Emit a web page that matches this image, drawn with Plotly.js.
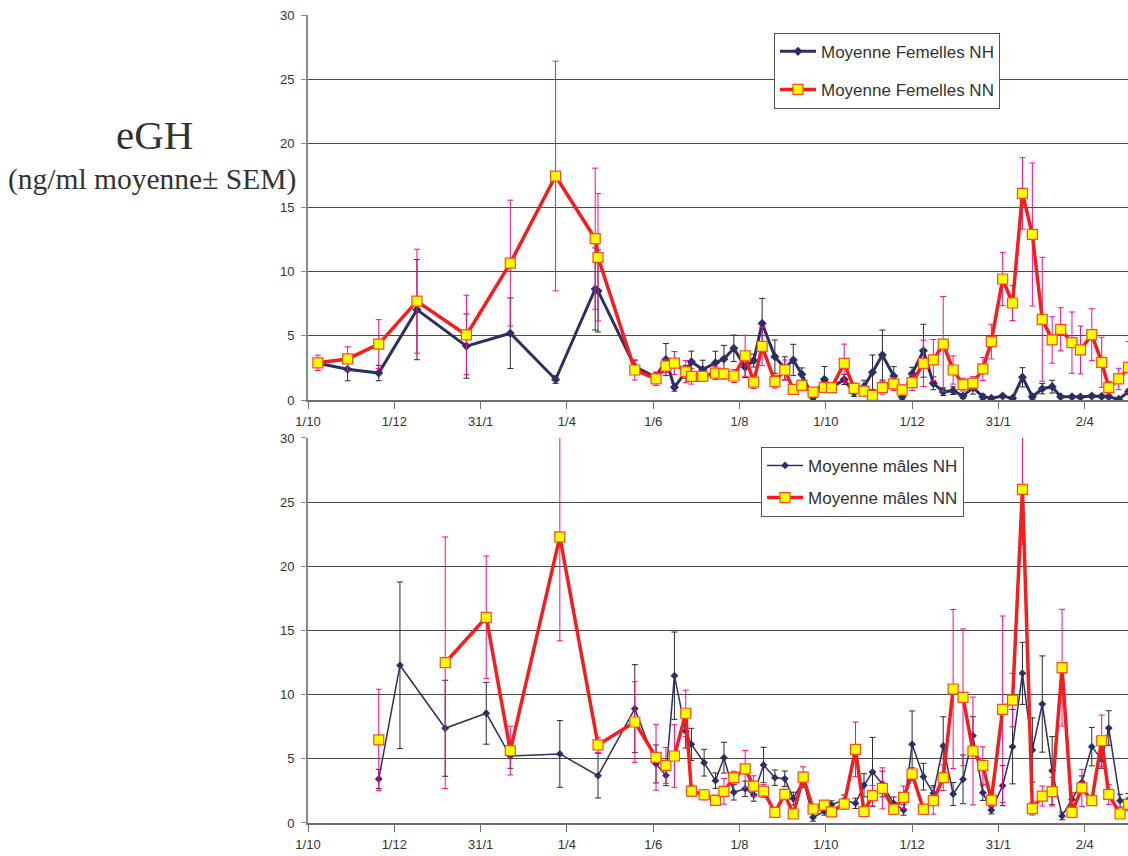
<!DOCTYPE html>
<html>
<head>
<meta charset="utf-8">
<script src="https://cdn.plot.ly/plotly-3.0.1.min.js"></script>
<style>html,body{margin:0;padding:0;background:#fff;}#chart{width:1128px;height:856px;}</style>
</head>
<body>
<div id="chart"></div>
<script>
// x axis: days counted from the first 1/10
const tickDays = [0, 61, 122, 183, 244, 305, 366, 427, 488, 549];
const tickLabels = ['1/10', '1/12', '31/1', '1/4', '1/6', '1/8', '1/10', '1/12', '31/1', '2/4'];

// Females (top panel)
const femDays = [7, 28, 50, 77, 112, 143, 175, 203, 205, 231,
  246, 253, 259, 267, 271, 279, 288, 294, 301, 309,
  315, 321, 330, 337, 343, 349, 357, 365, 370, 379,
  386, 393, 399, 406, 414, 420, 427, 435, 442, 449,
  456, 463, 470, 477, 483, 491, 498, 505, 512, 519,
  526, 532, 540, 546, 554, 561, 566, 573, 580];
const femNH = [2.86, 2.4, 2.1, 7.04, 4.2, 5.2, 1.6, 8.65, 8.5, 2.6,
  1.77, 3.15, 0.99, 2.2, 2.98, 2.37, 2.9, 3.2, 4.03, 2.55,
  3.07, 5.97, 3.38, 2.47, 3.12, 2.0, 0.21, 1.61, 0.96, 1.6,
  0.57, 1.04, 2.16, 3.5, 1.87, 0.26, 2.05, 3.84, 1.3, 0.65,
  0.73, 0.31, 0.96, 0.26, 0.13, 0.31, 0.13, 1.77, 0.26, 0.88,
  1.04, 0.26, 0.26, 0.23, 0.31, 0.28, 0.26, 0.05, 0.65];
const femNHsem = [0.3, 0.9, 0.6, 3.9, 2.5, 2.75, 0.3, 3.2, 3.2, 0.5,
  0.4, 1.25, 0.3, 0.5, 0.83, 0.73, 0.9, 1.06, 1.03, 0.8,
  0.5, 1.95, 1.3, 0.9, 1.22, 0.5, 0.2, 1.0, 0.3, 0.4,
  0.3, 0.5, 1.35, 1.95, 0.73, 0.2, 0.5, 2.06, 0.5, 0.3,
  0.3, 0.2, 0.5, 0.2, 0.1, 0.1, 0.1, 0.75, 0.2, 0.4,
  0.5, 0.1, 0.1, 0.1, 0.1, 0.1, 0.1, 0.1, 0.2];
const femNN = [2.9, 3.2, 4.36, 7.7, 5.07, 10.67, 17.45, 12.57, 11.12, 2.34,
  1.64, 2.65, 2.88, 2.21, 1.84, 1.84, 2.1, 2.03, 1.87, 3.45,
  1.4, 4.18, 1.43, 2.34, 0.83, 1.14, 0.62, 0.99, 0.96, 2.86,
  0.91, 0.7, 0.36, 0.96, 1.25, 0.78, 1.35, 2.86, 3.12, 4.36,
  2.34, 1.2, 1.32, 2.42, 4.55, 9.43, 7.56, 16.1, 12.9, 6.29,
  4.68, 5.51, 4.47, 3.9, 5.09, 2.94, 0.96, 1.64, 2.55];
const femNNsem = [0.6, 0.95, 1.9, 4.05, 3.1, 4.9, 8.95, 5.5, 4.96, 0.78,
  0.5, 0.5, 0.9, 0.86, 0.6, 0.4, 0.5, 0.4, 0.5, 1.6,
  0.5, 1.5, 0.5, 0.78, 0.3, 0.4, 0.3, 0.3, 0.3, 1.5,
  0.4, 0.3, 0.3, 0.5, 0.5, 0.4, 0.6, 1.8, 1.6, 3.7,
  1.1, 0.5, 0.5, 0.9, 1.35, 2.08, 1.37, 2.78, 5.57, 4.83,
  1.81, 1.68, 2.39, 1.87, 2.02, 1.95, 0.5, 0.83, 2.0];

// Males (bottom panel)
const maleDays = [50, 65, 97, 126, 143, 178, 205, 231, 246, 253,
  259, 267, 271, 280, 288, 294, 301, 309, 315, 322,
  330, 337, 343, 350, 357, 365, 370, 379, 387, 393,
  399, 406, 414, 421, 427, 435, 442, 449, 456, 463,
  470, 477, 483, 491, 498, 505, 512, 519, 526, 533,
  540, 547, 554, 561, 566, 574, 580];
const maleNH = [3.43, 12.29, 7.38, 8.55, 5.22, 5.38, 3.69, 8.91, 4.6, 3.71,
  11.48, 7.14, 6.13, 4.7, 3.3, 5.09, 2.39, 2.67, 2.2, 4.52,
  3.53, 3.45, 1.9, 3.35, 0.44, 0.91, 1.43, 1.79, 1.53, 2.94,
  3.97, 3.04, 1.53, 1.01, 6.13, 3.61, 2.31, 6.0, 2.26, 3.4,
  6.8, 2.36, 1.01, 2.91, 5.95, 11.66, 5.69, 9.27, 4.08, 0.55,
  1.84, 3.17, 5.95, 4.96, 7.4, 1.74, 1.8];
const maleNHsem = [0.75, 6.49, 3.74, 2.41, 0.96, 2.6, 1.74, 3.43, 1.48, 0.8,
  3.4, 1.3, 1.25, 1.04, 0.6, 1.2, 0.6, 0.6, 0.5, 1.38,
  0.6, 0.6, 0.5, 0.6, 0.3, 0.3, 0.3, 0.4, 0.4, 0.9,
  2.7, 1.0, 0.5, 0.4, 2.6, 1.04, 0.6, 2.28, 0.9, 1.9,
  1.48, 0.6, 0.3, 1.56, 2.9, 2.42, 2.5, 3.75, 2.65, 0.3,
  0.5, 0.5, 1.5, 0.7, 1.35, 0.5, 0.5];
const maleNN = [6.47, null, 12.49, 16.03, 5.64, 22.3, 6.08, 7.87, 5.12, 4.49,
  5.22, 8.55, 2.49, 2.2, 1.77, 2.47, 3.53, 4.21, 2.88, 2.49,
  0.83, 2.23, 0.7, 3.58, 1.09, 1.4, 0.86, 1.48, 5.74, 0.88,
  2.13, 2.7, 1.07, 2.0, 3.82, 1.07, 1.74, 3.53, 10.44, 9.79,
  5.61, 4.49, 1.79, 8.86, 9.58, 26.0, 1.12, 2.1, 2.44, 12.1,
  0.83, 2.73, 1.74, 6.41, 2.23, 0.7, 1.45];
const maleNNsem = [3.95, 0, 9.8, 4.78, 1.9, 8.1, 0.6, 3.14, 2.57, 1.4,
  2.44, 1.8, 0.4, 0.4, 0.4, 1.0, 0.5, 1.45, 0.8, 0.5,
  0.3, 0.4, 0.3, 0.8, 0.3, 0.3, 0.3, 0.4, 2.13, 0.3,
  0.8, 1.6, 0.4, 0.88, 0.5, 0.4, 1.05, 1.0, 6.2, 5.33,
  4.2, 1.45, 0.5, 7.27, 2.08, 4.3, 0.5, 0.78, 1.12, 4.55,
  0.4, 1.45, 0.3, 2.0, 0.78, 0.3, 0.5];

const NAVY = '#2c2f64';
const RED = '#f51d1d';
const MAGENTA = '#ff0a8c';
const YELLOW = '#ffff00';

function nhTrace(x, y, err, name, lw, ms, xa, ya, leg) {
  return {
    x: x, y: y, name: name, type: 'scatter', mode: 'lines+markers',
    xaxis: xa, yaxis: ya, legend: leg, legendgroup: name,
    line: {color: NAVY, width: lw},
    marker: {symbol: 'diamond', size: ms, color: NAVY},
    error_y: {type: 'data', array: err, visible: true, color: '#2a2a2a', thickness: 1, width: 3}
  };
}
function nnTrace(x, y, err, name, xa, ya, leg) {
  return {
    x: x, y: y, name: name, type: 'scatter', mode: 'lines+markers',
    xaxis: xa, yaxis: ya, legend: leg, legendgroup: name,
    line: {color: RED, width: 3.5},
    marker: {symbol: 'square', size: 10, color: YELLOW, line: {color: '#ff4a1a', width: 1.2}},
    error_y: {type: 'data', array: err, visible: true, color: MAGENTA, thickness: 1, width: 3}
  };
}

const traces = [
  nhTrace(femDays, femNH, femNHsem, 'Moyenne Femelles NH', 3, 7, 'x', 'y', 'legend'),
  nnTrace(femDays, femNN, femNNsem, 'Moyenne Femelles NN', 'x', 'y', 'legend'),
  nhTrace(maleDays, maleNH, maleNHsem, 'Moyenne mâles NH', 1.5, 6, 'x2', 'y2', 'legend2'),
  nnTrace(maleDays, maleNN, maleNNsem, 'Moyenne mâles NN', 'x2', 'y2', 'legend2')
];

const tickFont = {family: 'Liberation Sans, Arial, sans-serif', size: 13, color: '#333'};
const xRange = [0, 579.6];

function xAxis(anchor) {
  return {
    anchor: anchor, range: xRange, tickmode: 'array', tickvals: tickDays, ticktext: tickLabels,
    showgrid: false, zeroline: false, showline: true, linecolor: '#6e6e6e', linewidth: 1.5,
    ticks: 'outside', ticklen: 7, tickcolor: '#6e6e6e', tickfont: tickFont, ticklabelstandoff: 2
  };
}
function yAxis(anchor, domain) {
  return {
    anchor: anchor, domain: domain, range: [0, 30], tickmode: 'linear', tick0: 0, dtick: 5,
    showgrid: true, gridcolor: '#4a4a4a', gridwidth: 1, zeroline: false,
    showline: true, linecolor: '#8a8a8a', linewidth: 2,
    ticks: 'outside', ticklen: 5, tickcolor: '#8a8a8a', tickfont: tickFont, ticklabelstandoff: 4
  };
}

const layout = {
  width: 1128, height: 856,
  margin: {l: 308, r: 0, t: 15, b: 33},
  paper_bgcolor: '#fff', plot_bgcolor: '#fff',
  showlegend: true,
  xaxis: xAxis('y'),
  yaxis: yAxis('x', [0.5235, 1]),
  xaxis2: xAxis('y2'),
  yaxis2: yAxis('x2', [0, 0.4765]),
  legend: {
    x: 0.5683, y: 0.978, xanchor: 'left', yanchor: 'top', xref: 'paper', yref: 'paper',
    bgcolor: '#fff', bordercolor: '#555', borderwidth: 1,
    font: {family: 'Liberation Sans, Arial, sans-serif', size: 17, color: '#333'},
    traceorder: 'grouped', tracegroupgap: 13, itemwidth: 36
  },
  legend2: {
    x: 0.5525, y: 0.4655, xanchor: 'left', yanchor: 'top', xref: 'paper', yref: 'paper',
    bgcolor: '#fff', bordercolor: '#555', borderwidth: 1,
    font: {family: 'Liberation Sans, Arial, sans-serif', size: 17, color: '#333'},
    traceorder: 'grouped', tracegroupgap: 7, itemwidth: 36
  },
  annotations: [
    {text: 'eGH', xref: 'paper', yref: 'paper', x: -0.1878, y: 0.852, xanchor: 'center', yanchor: 'middle',
     showarrow: false, font: {family: 'Liberation Serif, Times New Roman, serif', size: 41, color: '#333'}},
    {text: '(ng/ml moyenne± SEM)', xref: 'paper', yref: 'paper', x: -0.1902, y: 0.796, xanchor: 'center', yanchor: 'middle',
     showarrow: false, font: {family: 'Liberation Serif, Times New Roman, serif', size: 29.5, color: '#333'}}
  ]
};

Plotly.newPlot('chart', traces, layout, {displayModeBar: false, staticPlot: true});
</script>
</body>
</html>
